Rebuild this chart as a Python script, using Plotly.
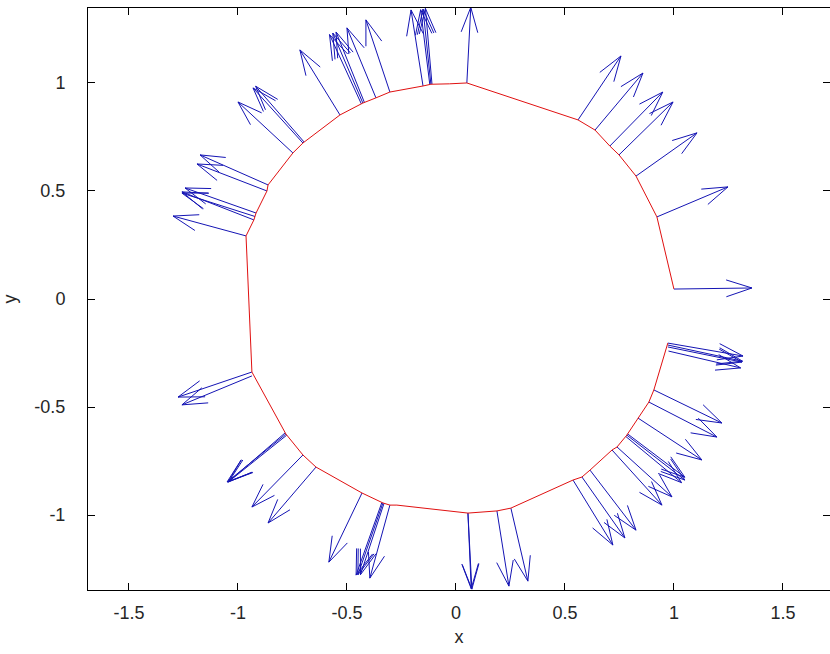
import math
import plotly.graph_objects as go
import plotly.figure_factory as ff

# ---- data ----
# arrow bases (points on the curve) and arrow components
base_x = [1.000, 0.922, 0.826, 0.748, 0.706, 0.638, 0.560, 0.050,
          -0.110, -0.115, -0.120, -0.151, -0.303, -0.367,
          -0.420, -0.427, -0.434, -0.532, -0.702, -0.697, -0.748,
          -0.862, -0.867, -0.917, -0.927, -0.922, -0.963,
          -0.936, -0.936, -0.780, -0.784, -0.776, -0.702, -0.642,
          -0.431, -0.335, -0.340, -0.330, -0.303,
          0.055, 0.055, 0.188, 0.252,
          0.537, 0.578, 0.615, 0.716, 0.739, 0.784, 0.780, 0.788,
          0.835, 0.885, 0.908, 0.972, 0.972, 0.972, 0.975]
base_y = [0.046, 0.380, 0.569, 0.667, 0.708, 0.782, 0.829, 1.000,
          0.995, 0.994, 0.993, 0.986, 0.958, 0.931,
          0.910, 0.907, 0.903, 0.852, 0.722, 0.727, 0.676,
          0.528, 0.500, 0.398, 0.366, 0.382, 0.292,
          -0.338, -0.356, -0.625, -0.620, -0.630, -0.722, -0.778,
          -0.898, -0.944, -0.942, -0.946, -0.954,
          -0.991, -0.991, -0.981, -0.968,
          -0.838, -0.824, -0.792, -0.699, -0.685, -0.630, -0.637, -0.625,
          -0.551, -0.477, -0.421, -0.204, -0.213, -0.222, -0.241]
vec_u = [0.358, 0.326, 0.280, 0.248, 0.243, 0.220, 0.197, 0.018,
         -0.030, -0.036, -0.042, -0.055, -0.110, -0.133,
         -0.130, -0.138, -0.146, -0.184, -0.229, -0.222, -0.252,
         -0.312, -0.321, -0.326, -0.330, -0.335, -0.335,
         -0.339, -0.321, -0.270, -0.262, -0.266, -0.234, -0.220,
         -0.152, -0.115, -0.118, -0.108, -0.092,
         0.018, 0.015, 0.055, 0.078,
         0.183, 0.197, 0.211, 0.229, 0.252, 0.266, 0.255, 0.262,
         0.293, 0.312, 0.312, 0.345, 0.343, 0.340, 0.331]
vec_v = [0.005, 0.139, 0.200, 0.245, 0.250, 0.264, 0.296, 0.350,
         0.350, 0.348, 0.346, 0.352, 0.334, 0.324,
         0.326, 0.324, 0.321, 0.301, 0.255, 0.258, 0.236,
         0.139, 0.125, 0.116, 0.130, 0.108, 0.092,
         -0.116, -0.134, -0.222, -0.228, -0.215, -0.241, -0.259,
         -0.320, -0.333, -0.336, -0.330, -0.338,
         -0.352, -0.350, -0.348, -0.338,
         -0.301, -0.282, -0.278, -0.255, -0.231, -0.208, -0.213, -0.200,
         -0.194, -0.162, -0.153, -0.060, -0.075, -0.070, -0.078]

# open curve (red polyline)
curve_x = [1.000, 0.922, 0.826, 0.748, 0.706, 0.638, 0.560, 0.050, -0.030,
           -0.115, -0.151, -0.303, -0.367, -0.427, -0.532, -0.702, -0.748,
           -0.862, -0.867, -0.917, -0.927, -0.963, -0.936, -0.780, -0.702,
           -0.642, -0.431, -0.335, -0.303, -0.271, 0.055, 0.188, 0.252, 0.537,
           0.578, 0.615, 0.716, 0.739, 0.784, 0.835, 0.885, 0.908, 0.972]
curve_y = [0.046, 0.380, 0.569, 0.667, 0.708, 0.782, 0.829, 1.000, 0.996,
           0.994, 0.986, 0.958, 0.931, 0.907, 0.852, 0.722, 0.676,
           0.528, 0.500, 0.398, 0.366, 0.292, -0.338, -0.625, -0.722,
           -0.778, -0.898, -0.944, -0.954, -0.954, -0.991, -0.981, -0.968, -0.838,
           -0.824, -0.792, -0.699, -0.685, -0.630, -0.551, -0.477, -0.421, -0.204]

x_ticks = [-1.5, -1, -0.5, 0, 0.5, 1, 1.5]
x_labels = ["-1.5", "-1", "-0.5", "0", "0.5", "1", "1.5"]
y_ticks = [-1, -0.5, 0, 0.5, 1]
y_labels = ["-1", "-0.5", "0", "0.5", "1"]

# MATLAB-like arrowheads: head length ~0.347 of arrow, half angle atan(0.33)
fig = ff.create_quiver(base_x, base_y, vec_u, vec_v, scale=1,
                       arrow_scale=0.347, angle=math.atan(0.33),
                       line=dict(color="#1414b4", width=1),
                       name="quiver", hoverinfo="skip")

fig.add_trace(go.Scatter(x=curve_x, y=curve_y, mode="lines",
                         line=dict(color="#e01010", width=1),
                         hoverinfo="skip", name="curve"))

font = dict(family="Liberation Sans, Arial, sans-serif", size=18, color="#262626")

fig.update_layout(
    width=830, height=654,
    margin=dict(l=88, r=0, t=8, b=64),
    paper_bgcolor="white", plot_bgcolor="white",
    showlegend=False,
    font=font,
    xaxis=dict(range=[-1.688, 1.716], tickvals=x_ticks, ticktext=x_labels,
               showgrid=False, zeroline=False, showline=True, linecolor="black",
               linewidth=1, mirror="ticks", ticks="inside", ticklen=7,
               tickcolor="black", ticklabelstandoff=6,
               title=dict(text="x", standoff=8, font=font)),
    yaxis=dict(range=[-1.347, 1.347], tickvals=y_ticks, ticktext=y_labels,
               showgrid=False, zeroline=False, showline=True, linecolor="black",
               linewidth=1, mirror="ticks", ticks="inside", ticklen=7,
               tickcolor="black", ticklabelstandoff=18,
               title=dict(text="y", standoff=14, font=font)),
)

fig.write_html("out.html", config={"displayModeBar": False},
               post_script="document.body.style.margin='0';document.body.style.overflow='hidden';")
